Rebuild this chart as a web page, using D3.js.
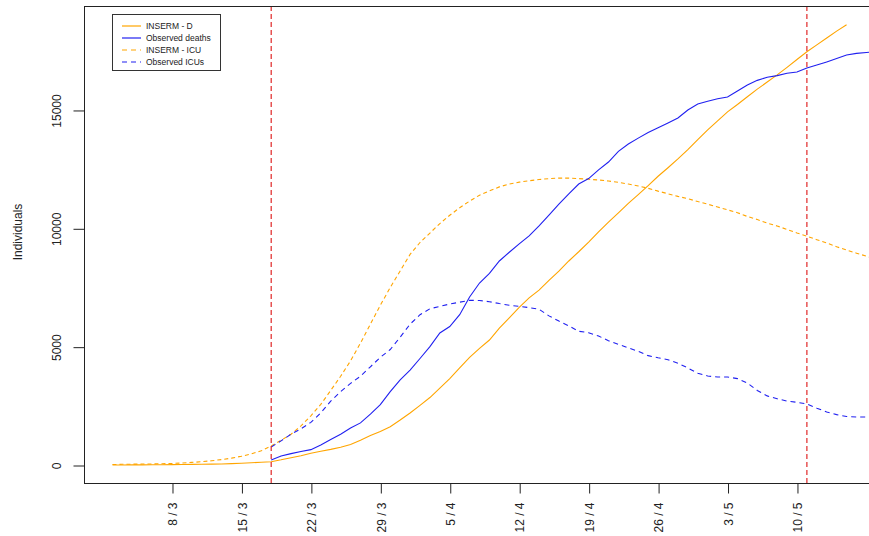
<!DOCTYPE html>
<html>
<head>
<meta charset="utf-8">
<script src="https://cdn.jsdelivr.net/npm/d3@7"></script>
<style>
  html, body { margin: 0; padding: 0; background: #fff; }
  svg { display: block; font-family: "Liberation Sans", Arial, sans-serif; }
</style>
</head>
<body>
<svg id="chart" width="869" height="536"></svg>
<script>
// ---------------- DATA ----------------
const modelStart = "2020-03-02";
const insermD = [0, 2, 4, 6, 9, 12, 16, 20, 25, 30, 36, 43, 60, 75, 95, 115,
  140, 220, 310, 390, 500, 580, 660, 750, 870, 1050, 1250, 1420, 1620, 1900, 2200,
  2520, 2850, 3250, 3650, 4100, 4550, 4930, 5280, 5780, 6220, 6660, 7060, 7390,
  7800, 8190, 8620, 9010, 9420, 9850, 10260, 10650, 11050, 11420, 11800, 12200,
  12560, 12930, 13320, 13750, 14160, 14540, 14920, 15230, 15560, 15880, 16180,
  16480, 16800, 17130, 17460, 17750, 18040, 18330, 18600];
const insermICU = [20, 30, 35, 40, 45, 55, 65, 85, 110, 140, 180, 230, 290, 370,
  470, 600, 800, 1050, 1300, 1650, 2080, 2560, 3150, 3750, 4400, 5150, 5950, 6750,
  7500, 8200, 8900, 9400, 9800, 10200, 10550, 10870, 11150, 11400, 11580, 11750,
  11870, 11950, 12010, 12060, 12100, 12120, 12120, 12100, 12070, 12040, 12000,
  11940, 11870, 11790, 11690, 11570, 11460, 11350, 11250, 11130, 11020, 10900,
  10780, 10660, 10500, 10370, 10220, 10100, 9950, 9800, 9670, 9520, 9380, 9220,
  9080, 8950, 8820, 8700];
const obsStart = "2020-03-18";
const obsDeaths = [210, 380, 480, 570, 650, 850, 1080, 1300, 1560, 1780, 2150,
  2550, 3100, 3600, 4010, 4500, 5000, 5580, 5850, 6350, 7100, 7690, 8100, 8620,
  8990, 9340, 9680, 10100, 10560, 11020, 11450, 11870, 12100, 12470, 12800, 13250,
  13560, 13810, 14050, 14250, 14450, 14660, 15000, 15250, 15370, 15470, 15550,
  15800, 16050, 16250, 16380, 16450, 16550, 16600, 16770, 16900, 17030, 17170,
  17320, 17390, 17430, 17450];
const obsICU = [760, 1020, 1300, 1530, 1800, 2200, 2700, 3100, 3450, 3750, 4150,
  4550, 4880, 5400, 5950, 6350, 6600, 6700, 6800, 6880, 6960, 6950, 6900, 6820,
  6750, 6700, 6650, 6580, 6300, 6080, 5880, 5650, 5590, 5450, 5250, 5100, 4950,
  4800, 4620, 4530, 4450, 4300, 4100, 3880, 3760, 3720, 3720, 3650, 3460, 3150,
  2920, 2800, 2700, 2650, 2580, 2400, 2240, 2130, 2050, 2030, 2030, 2030];
const vLines = ["2020-03-18", "2020-05-11"];
const xTicks = ["2020-03-08", "2020-03-15", "2020-03-22", "2020-03-29", "2020-04-05",
  "2020-04-12", "2020-04-19", "2020-04-26", "2020-05-03", "2020-05-10"];
const yTicks = [0, 5000, 10000, 15000];
const legendLabels = ["INSERM - D", "Observed deaths", "INSERM - ICU", "Observed ICUs"];

// ---------------- LAYOUT ----------------
const svg = d3.select("#chart");
const plot = { left: 84, right: 880, top: 6, bottom: 483 };
const DAY = 86400000;
const parse = s => new Date(s + "T00:00:00Z");
const ref = parse("2020-03-08");
const x = d3.scaleUtc()
  .domain([new Date(+ref - 8.87 * DAY), new Date(+ref + 71.37 * DAY)])
  .range([plot.left, plot.right]);
const y = d3.scaleLinear().domain([-760, 19392]).range([plot.bottom, plot.top]);

const ORANGE = "#ffa500", BLUE = "#2020f0", RED = "#e02828";

const series = (start, vals) => vals.map((v, i) => ({ d: new Date(+parse(start) + i * DAY), v }));
const line = d3.line().x(p => x(p.d)).y(p => y(p.v));

svg.append("clipPath").attr("id", "clip").append("rect")
  .attr("x", plot.left).attr("y", plot.top)
  .attr("width", plot.right - plot.left).attr("height", plot.bottom - plot.top);

const g = svg.append("g").attr("clip-path", "url(#clip)");

const defs = [
  { data: series(modelStart, insermD), color: ORANGE, dash: null },
  { data: series(modelStart, insermICU), color: ORANGE, dash: "4,3" },
  { data: series(obsStart, obsDeaths), color: BLUE, dash: null },
  { data: series(obsStart, obsICU), color: BLUE, dash: "5,4" }
];
defs.forEach(s => {
  g.append("path").datum(s.data).attr("d", line)
    .attr("fill", "none").attr("stroke", s.color).attr("stroke-width", 1.1)
    .attr("stroke-dasharray", s.dash);
});

vLines.forEach(dv => {
  g.append("line")
    .attr("x1", x(parse(dv))).attr("x2", x(parse(dv)))
    .attr("y1", plot.top).attr("y2", plot.bottom)
    .attr("stroke", RED).attr("stroke-width", 1.2).attr("stroke-dasharray", "5,3");
});

// box
svg.append("rect").attr("x", plot.left + 0.5).attr("y", plot.top + 0.5)
  .attr("width", plot.right - plot.left).attr("height", plot.bottom - plot.top)
  .attr("fill", "none").attr("stroke", "#222").attr("stroke-width", 1);

// x axis
const xAxis = d3.axisBottom(x).tickValues(xTicks.map(parse))
  .tickFormat(d3.utcFormat("%-d / %-m")).tickSize(10).tickSizeOuter(0);
const gx = svg.append("g").attr("transform", `translate(0.5,${plot.bottom + 0.5})`).call(xAxis);
gx.select(".domain").remove();
gx.selectAll(".tick line").attr("stroke", "#222");
gx.selectAll(".tick text")
  .attr("transform", "translate(0,19) rotate(-90)")
  .attr("x", 0).attr("y", 0).attr("dy", "0.35em")
  .attr("text-anchor", "end")
  .attr("font-size", 12).attr("fill", "#222")
  .attr("font-family", "Liberation Sans, Arial, sans-serif");

// y axis
const yAxis = d3.axisLeft(y).tickValues(yTicks).tickFormat(d3.format("d")).tickSize(11).tickSizeOuter(0);
const gy = svg.append("g").attr("transform", `translate(${plot.left + 0.5},0.5)`).call(yAxis);
gy.select(".domain").remove();
gy.selectAll(".tick line").attr("stroke", "#222");
gy.selectAll(".tick text")
  .attr("transform", "translate(-28,0) rotate(-90)")
  .attr("x", 0).attr("y", 0).attr("dy", "0.35em")
  .attr("text-anchor", "middle")
  .attr("font-size", 12).attr("fill", "#222")
  .attr("font-family", "Liberation Sans, Arial, sans-serif");

svg.append("text").attr("transform", "translate(18,232) rotate(-90)")
  .attr("text-anchor", "middle").attr("dy", "0.35em")
  .attr("font-size", 12).attr("fill", "#222").text("Individuals");

// legend
const leg = svg.append("g");
leg.append("rect").attr("x", 112.5).attr("y", 14.5).attr("width", 108).attr("height", 56)
  .attr("fill", "#fff").attr("stroke", "#333").attr("stroke-width", 1);
const legStyle = [
  { color: ORANGE, dash: null }, { color: BLUE, dash: null },
  { color: ORANGE, dash: "5,4" }, { color: BLUE, dash: "5,4" }
];
legendLabels.forEach((lab, i) => {
  const yy = 26 + i * 12;
  leg.append("line").attr("x1", 122).attr("x2", 141).attr("y1", yy).attr("y2", yy)
    .attr("stroke", legStyle[i].color).attr("stroke-width", 1.2)
    .attr("stroke-dasharray", legStyle[i].dash);
  leg.append("text").attr("x", 146).attr("y", yy).attr("dy", "0.35em")
    .attr("font-size", 8.5).attr("fill", "#222").text(lab);
});
</script>
</body>
</html>
